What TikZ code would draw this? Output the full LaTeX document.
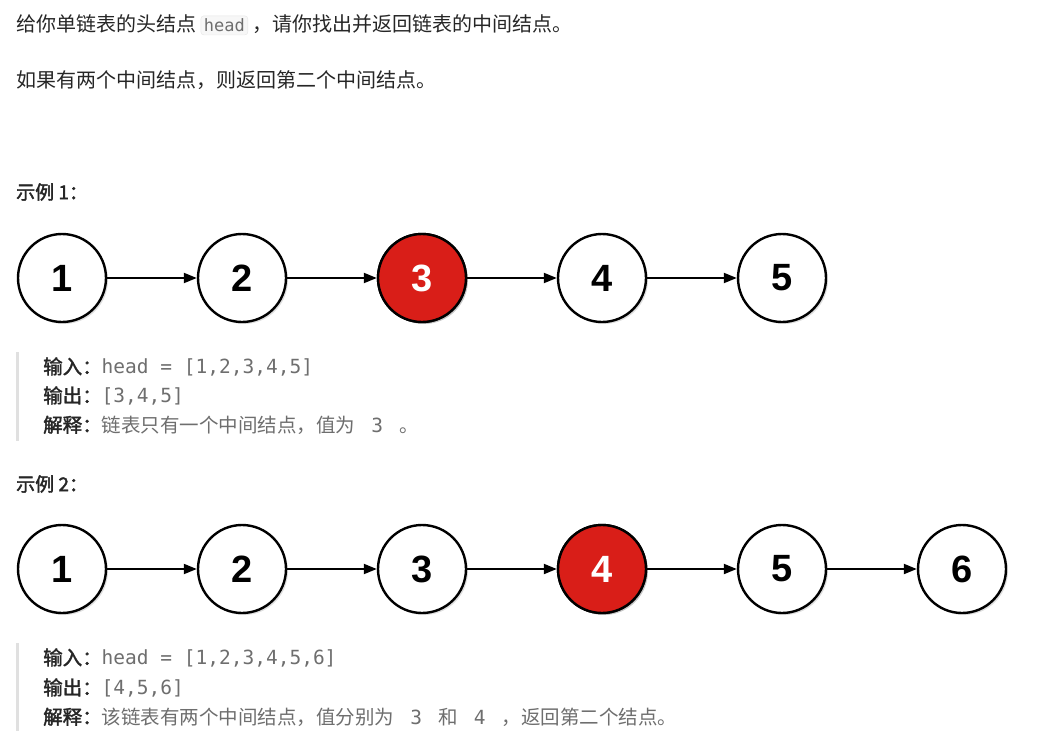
\documentclass[tikz,border=0pt]{standalone}
\usepackage{fontspec}
\setmainfont{Noto Sans CJK SC}
\newfontfamily\cjkb{Noto Sans CJK SC}[FakeBold=2]
\newfontfamily\numf{Liberation Sans}
\setmonofont{DejaVu Sans Mono}
\usetikzlibrary{arrows.meta,shadows}
\definecolor{txt}{HTML}{262626}
\definecolor{codec}{HTML}{6E6E6E}
\definecolor{redn}{HTML}{D91E18}
\begin{document}
\begin{tikzpicture}[x=1pt,y=-1pt,
  ln/.style={circle,draw=black,line width=2.4pt,minimum size=88pt,inner sep=0pt,fill=white,font=\numf\bfseries\fontsize{38}{38}\selectfont,drop shadow={opacity=0.25,shadow xshift=2pt,shadow yshift=-2pt}},
  hl/.style={fill=redn,text=white},
  ar/.style={line width=2pt,-{Triangle[length=13pt,width=10pt]}},
  para/.style={anchor=west,inner sep=0pt,text=txt,font=\fontsize{20}{24}\selectfont},
  hd/.style={anchor=west,inner sep=0pt,text=txt,font=\cjkb\fontsize{19}{24}\selectfont},
  qt/.style={anchor=west,inner sep=0pt,text=codec,font=\fontsize{19.5}{24}\selectfont},
  bar/.style={draw=black!12,line width=3pt}]
\useasboundingbox (0,0) rectangle (1038,752);
\node[para] (t1) at (16,25) {给你单链表的头结点 \tikz[baseline=(h.base)]\node[draw=black!10,fill=black!3,rounded corners=3pt,inner sep=3pt,text=codec,font=\ttfamily\fontsize{17}{19}\selectfont](h){head}; ，请你找出并返回链表的中间结点。};
\node[para] (t2) at (16,80) {如果有两个中间结点，则返回第二个中间结点。};
\node[hd] (e1) at (16,192) {示例 1：};
\foreach \i in {1,...,5}{\node[ln] (a\i) at ({62+180*(\i-1)},278) {\i};}
\node[ln,hl] at (a3) {3};
\foreach \i/\j in {1/2,2/3,3/4,4/5}{\draw[ar] (a\i) -- (a\j);}
\coordinate (b1t) at (17,352); \coordinate (b1b) at (17,441);
\draw[bar] (b1t) -- (b1b);
\node[qt] (i1) at (43,367) {{\cjkb\color{txt}输入：}\ttfamily head = [1,2,3,4,5]};
\node[qt] (o1) at (43,396) {{\cjkb\color{txt}输出：}\ttfamily [3,4,5]};
\node[qt] (x1) at (43,425) {{\cjkb\color{txt}解释：}链表只有一个中间结点，值为 {\ttfamily\ 3\ } 。};
\node[hd] (e2) at (16,484) {示例 2：};
\foreach \i in {1,...,6}{\node[ln] (c\i) at ({62+180*(\i-1)},569) {\i};}
\node[ln,hl] at (c4) {4};
\foreach \i/\j in {1/2,2/3,3/4,4/5,5/6}{\draw[ar] (c\i) -- (c\j);}
\coordinate (b2t) at (17,643); \coordinate (b2b) at (17,731);
\draw[bar] (b2t) -- (b2b);
\node[qt] (i2) at (43,658) {{\cjkb\color{txt}输入：}\ttfamily head = [1,2,3,4,5,6]};
\node[qt] (o2) at (43,688) {{\cjkb\color{txt}输出：}\ttfamily [4,5,6]};
\node[qt] (x2) at (43,717) {{\cjkb\color{txt}解释：}该链表有两个中间结点，值分别为 {\ttfamily\ 3\ } 和 {\ttfamily\ 4\ } ，返回第二个结点。};
\end{tikzpicture}
\end{document}
